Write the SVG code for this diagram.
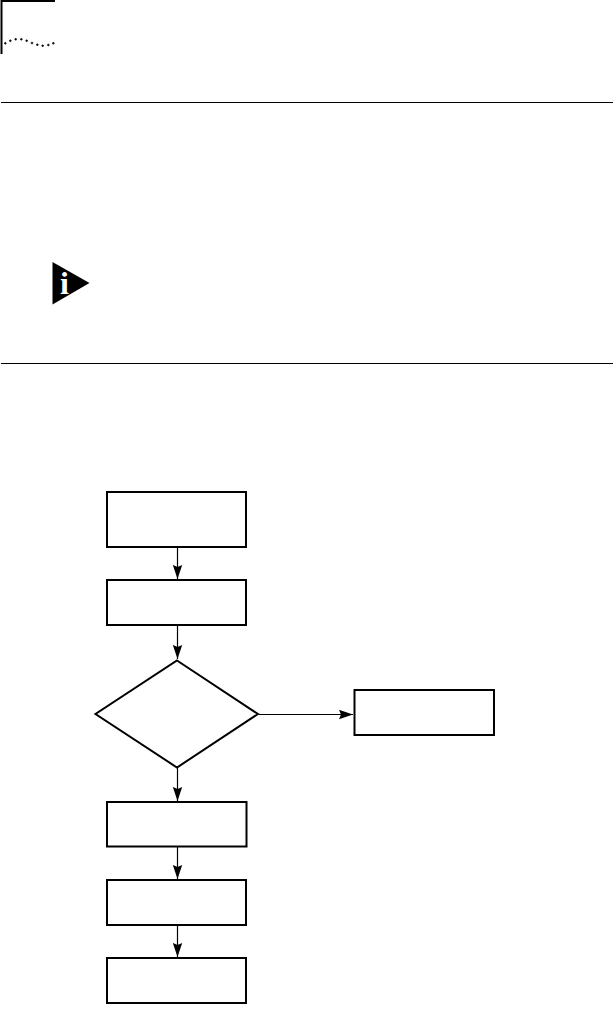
<svg xmlns="http://www.w3.org/2000/svg" width="614" height="1011" viewBox="0 0 614 1011">
<style>
.box{fill:#fff;stroke:#000;stroke-width:2}
.rule{stroke:#000;stroke-width:1;fill:none}
.edge{stroke:#000;stroke-width:1.2;fill:none;marker-end:url(#arrow)}
.dot{fill:#000}
</style>
<defs>
<marker id="arrow" markerUnits="userSpaceOnUse" markerWidth="14" markerHeight="10" refX="14" refY="5" orient="auto">
<path d="M0 0.300L14 5L0 9.700L2 5Z" fill="#000"/>
</marker>
<g id="pip"><path class="dot" d="M-.5-1.300H.5V-.5H1.300V.5H.5V1.300H-.5V.5H-1.300V-.5H-.5Z"/></g>
</defs>
<rect width="614" height="1011" fill="#fff"/>
<g id="page-mark">
<path d="M1.500 54V1H55" fill="none" stroke="#000" stroke-width="2"/>
<use href="#pip" x="5.300" y="43.300"/><use href="#pip" x="10.300" y="40.700"/><use href="#pip" x="15.700" y="39.300"/><use href="#pip" x="21.300" y="39.300"/><use href="#pip" x="26.700" y="40.700"/><use href="#pip" x="32" y="43"/><use href="#pip" x="37.300" y="44.700"/><use href="#pip" x="42.700" y="45.700"/><use href="#pip" x="48.300" y="45"/><use href="#pip" x="53.300" y="43.300"/>
</g>
<path class="rule" d="M1 102.500H613M1 363.500H613"/>
<g id="note-icon">
<path d="M52.500 262L89.500 283L52.500 304.500Z" fill="#000"/>
<text x="64.500" y="293.500" text-anchor="middle" font-family="'Liberation Serif',serif" font-weight="700" font-size="32" fill="#fff">i</text>
</g>
<g id="connectors">
<path class="edge" d="M177.500 547V579"/>
<path class="edge" d="M177.500 626V659"/>
<path class="edge" d="M259 714.500H353"/>
<path class="edge" d="M177.500 768V801"/>
<path class="edge" d="M177.500 847V879"/>
<path class="edge" d="M177.500 925V957"/>
</g>
<g id="node-1"><rect class="box" x="107" y="492" width="139" height="55"/></g>
<g id="node-2"><rect class="box" x="107" y="580" width="139" height="45"/></g>
<g id="node-3"><path class="box" d="M177 660.500L258 714L177 767.500L95.500 714Z"/></g>
<g id="node-4"><rect class="box" x="354.500" y="690" width="139.500" height="45"/></g>
<g id="node-5"><rect class="box" x="107" y="802" width="139.500" height="44.500"/></g>
<g id="node-6"><rect class="box" x="107" y="880" width="139" height="45"/></g>
<g id="node-7"><rect class="box" x="107" y="958" width="139" height="45"/></g>
</svg>
